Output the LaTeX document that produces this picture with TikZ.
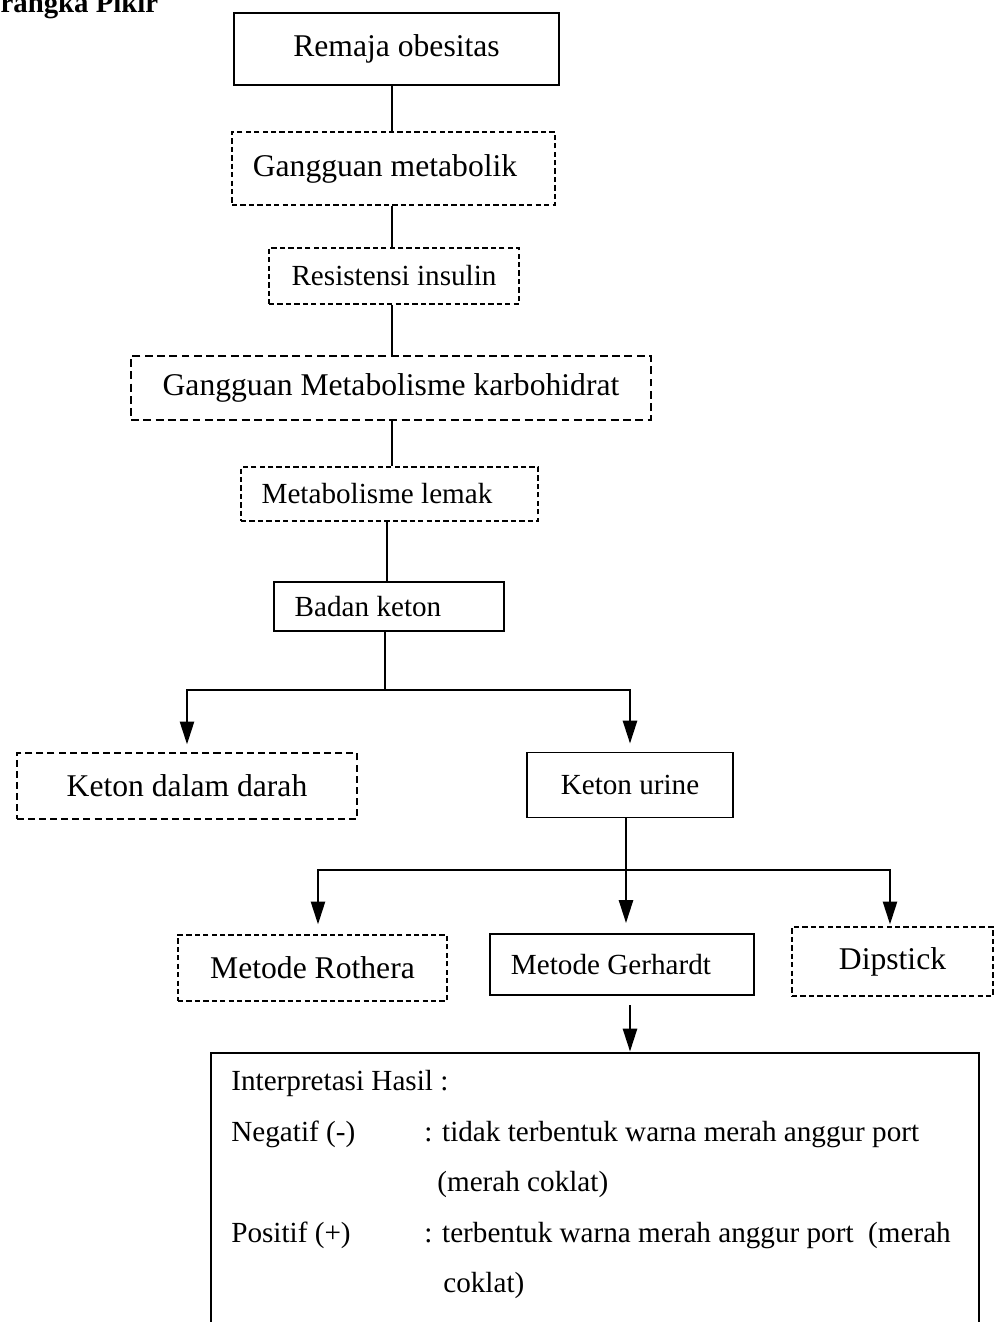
\documentclass[tikz,border=0pt]{standalone}
\usepackage{fontspec}
\setmainfont{Liberation Serif}
\usepackage{tikz}
\usetikzlibrary{shapes, arrows, arrows.meta, calc, positioning}
\tikzstyle{block} = [rectangle, draw=black, line width=1.1pt, text centered, align=center, font=\fontsize{18}{21}\selectfont]
\tikzstyle{dashblock} = [rectangle, draw=black, line width=0.7pt, dash pattern=on 3pt off 1.8pt, text centered, align=center, font=\fontsize{18}{21}\selectfont]
\tikzstyle{bigdash} = [rectangle, draw=black, line width=1.3pt, dash pattern=on 4.5pt off 2.5pt, text centered, align=center, font=\fontsize{18}{21}\selectfont]
\tikzstyle{small} = [font=\fontsize{16.6}{19}\selectfont]
\tikzstyle{link} = [line width=1.3pt]
\tikzstyle{arrow} = [line width=1.3pt,-{Triangle[length=13pt,width=8pt]}]
\tikzstyle{hasil} = [anchor=base west, inner sep=0pt, font=\fontsize{16.6}{19}\selectfont]

\begin{document}
\begin{tikzpicture}[x=0.02cm, y=-0.02cm]
    \useasboundingbox (0,0) rectangle (995,1322);
    \node (Title) [anchor=base west, inner sep=0pt, font=\fontsize{16.4}{19}\selectfont\bfseries] at (-35,12) {Kerangka Pikir};
    % chain of boxes
    \node (Remaja) [block, minimum width=6.5cm, minimum height=1.44cm] at (396.5,49) {Remaja obesitas};
    \node (Metabolik) [dashblock, minimum width=6.46cm, minimum height=1.46cm] at (393.5,168.5) {Gangguan metabolik\hspace*{0.34cm}};
    \node (Insulin) [dashblock, small, minimum width=5cm, minimum height=1.12cm] at (394,276) {Resistensi insulin};
    \node (Karbo) [bigdash, minimum width=10.4cm, minimum height=1.28cm] at (391,388) {Gangguan Metabolisme karbohidrat};
    \node (Lemak) [dashblock, small, minimum width=5.94cm, minimum height=1.08cm] at (389.5,494) {Metabolisme lemak\hspace*{0.5cm}};
    \node (Badan) [block, small, minimum width=4.6cm, minimum height=0.98cm] at (389,606.5) {Badan keton\hspace*{0.84cm}};
    \node (Darah) [dashblock, dash pattern=on 4pt off 2.3pt, minimum width=6.8cm, minimum height=1.32cm] at (187,786) {Keton dalam darah};
    \node (Urine) [block, small, minimum width=4.12cm, minimum height=1.3cm] at (630,785) {Keton urine};
    \node (Rothera) [dashblock, minimum width=5.38cm, minimum height=1.32cm] at (312.5,968) {Metode Rothera};
    \node (Gerhardt) [block, small, minimum width=5.28cm, minimum height=1.22cm] at (622,964.5) {Metode Gerhardt\hspace*{0.44cm}};
    \node (Dipstick) [dashblock, minimum width=4.02cm, minimum height=1.38cm] at (892.5,961.5) {Dipstick};
    \node (Hasil) [rectangle, draw=black, line width=1.1pt, minimum width=15.38cm, minimum height=5.9cm] at (595,1200) {};
    % spine and split points
    \coordinate (Spine) at (392,0);
    \coordinate (LowSpine) at (387,0);
    \coordinate (SplitA) at (385,690);
    \coordinate (SplitB) at (626,870);
    \coordinate (GStart) at (630,1005);
    % connectors
    \draw [link] (Remaja.south -| Spine) -- (Metabolik.north -| Spine);
    \draw [link] (Metabolik.south -| Spine) -- (Insulin.north -| Spine);
    \draw [link] (Insulin.south -| Spine) -- (Karbo.north -| Spine);
    \draw [link] (Karbo.south -| Spine) -- (Lemak.north -| Spine);
    \draw [link] (Lemak.south -| LowSpine) -- (Badan.north -| LowSpine);
    \draw [link] (Badan.south -| SplitA) -- (SplitA);
    \draw [arrow, shorten >=0.16cm] (SplitA) -| (Darah.north);
    \draw [arrow, shorten >=0.16cm] (SplitA) -| (Urine.north);
    \draw [link] (Urine.south -| SplitB) -- (SplitB);
    \draw [arrow, shorten >=0.2cm] (SplitB) -| ([xshift=0.11cm]Rothera.north);
    \draw [arrow, shorten >=0.2cm] (SplitB) -| (Gerhardt.north -| SplitB);
    \draw [arrow, shorten >=0.04cm] (SplitB) -| ([xshift=-0.05cm]Dipstick.north);
    \draw [arrow] (GStart) -- (GStart |- Hasil.north);
    % interpretation text
    \node (HasilHead) [hasil] at (231,1090) {Interpretasi Hasil :};
    \node (NegLabel) [hasil] at (231,1141) {Negatif (-)};
    \node (NegText) [hasil] at (424,1141) {: tidak terbentuk warna merah anggur port};
    \node (NegMore) [hasil] at (437,1191) {(merah coklat)};
    \node (PosLabel) [hasil] at (231,1242) {Positif (+)};
    \node (PosText) [hasil] at (424,1242) {: terbentuk warna merah anggur port \ (merah};
    \node (PosMore) [hasil] at (443,1292) {coklat)};
\end{tikzpicture}
\end{document}
